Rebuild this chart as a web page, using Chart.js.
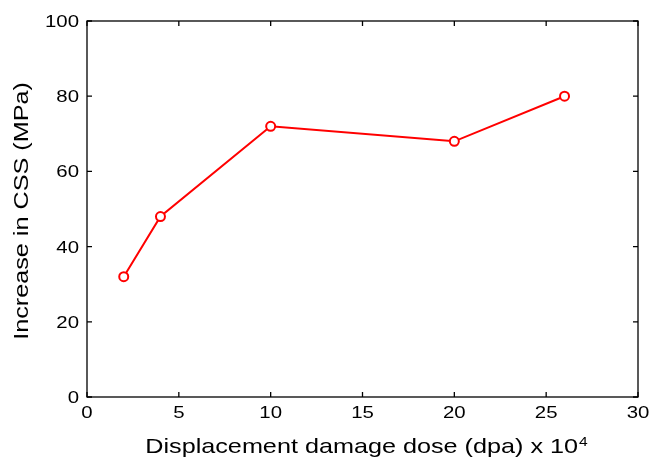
<!DOCTYPE html>
<html>
<head>
<meta charset="utf-8">
<script src="https://cdn.jsdelivr.net/npm/chart.js@4.4.0/dist/chart.umd.min.js"></script>
<style>
  html, body { margin: 0; padding: 0; background: #fff; }
  #wrap { width: 653px; height: 460px; }
</style>
</head>
<body>
<div id="wrap"><canvas id="cssChart" width="653" height="460"></canvas></div>
<script>
// dose (x 10^4 dpa) and CSS increase (MPa)
const doses = [2, 4, 10, 20, 26];
const cssIncrease = [32, 48, 72, 68, 80];
const xTicks = [0, 5, 10, 15, 20, 25, 30];
const yTicks = [0, 20, 40, 60, 80, 100];

const FONT = 'Liberation Sans, Arial, Helvetica, sans-serif';
const STRETCH = 1.2; // the figure's text is drawn a bit wide

// draw text stretched along its own direction
function wideText(ctx, txt, x, y, align) {
    const w = ctx.measureText(txt).width * STRETCH;
    let left = x;
    if (align === 'center') left = x - w / 2;
    if (align === 'right') left = x - w;
    ctx.save();
    ctx.translate(left, y);
    ctx.scale(STRETCH, 1);
    ctx.textAlign = 'left';
    ctx.fillText(txt, 0, 0);
    ctx.restore();
    return w;
}

// MATLAB style box with inward ticks, tick labels and axis titles
const boxPlugin = {
    id: 'box',
    afterDraw(chart) {
        const ctx = chart.ctx;
        const a = chart.chartArea;
        const xs = chart.scales.x, ys = chart.scales.y;
        const tl = 5;
        ctx.save();
        ctx.strokeStyle = '#000';
        ctx.lineWidth = 1.3;
        ctx.strokeRect(a.left, a.top, a.right - a.left, a.bottom - a.top);
        ctx.beginPath();
        xTicks.forEach(v => {
            const px = xs.getPixelForValue(v);
            ctx.moveTo(px, a.bottom); ctx.lineTo(px, a.bottom - tl);
            ctx.moveTo(px, a.top); ctx.lineTo(px, a.top + tl);
        });
        yTicks.forEach(v => {
            const py = ys.getPixelForValue(v);
            ctx.moveTo(a.left, py); ctx.lineTo(a.left + tl, py);
            ctx.moveTo(a.right, py); ctx.lineTo(a.right - tl, py);
        });
        ctx.stroke();

        ctx.fillStyle = '#000';
        ctx.textBaseline = 'alphabetic';
        ctx.font = '17px ' + FONT;
        xTicks.forEach(v => {
            wideText(ctx, String(v), xs.getPixelForValue(v), a.bottom + 21, 'center');
        });
        yTicks.forEach(v => {
            wideText(ctx, String(v), a.left - 8, ys.getPixelForValue(v) + 6, 'right');
        });

        // x title with superscript exponent
        ctx.font = '21px ' + FONT;
        const main = 'Displacement damage dose (dpa) x 10';
        const w1 = ctx.measureText(main).width * STRETCH;
        ctx.font = '13px ' + FONT;
        const w2 = ctx.measureText('4').width * STRETCH;
        const start = 366 - (w1 + w2) / 2;
        ctx.font = '21px ' + FONT;
        wideText(ctx, main, start, 453, 'left');
        ctx.font = '13px ' + FONT;
        wideText(ctx, '4', start + w1 + 1, 446, 'left');

        // y title
        ctx.translate(28, 211);
        ctx.rotate(-Math.PI / 2);
        ctx.font = '21px ' + FONT;
        wideText(ctx, 'Increase in CSS (MPa)', 0, 0, 'center');
        ctx.restore();
    }
};

new Chart(document.getElementById('cssChart').getContext('2d'), {
    type: 'line',
    data: {
        datasets: [{
            data: doses.map((d, i) => ({ x: d, y: cssIncrease[i] })),
            borderColor: '#ff0000',
            borderWidth: 2,
            backgroundColor: '#ffffff',
            pointBackgroundColor: '#ffffff',
            pointBorderColor: '#ff0000',
            pointBorderWidth: 2,
            pointRadius: 4.5,
            tension: 0
        }]
    },
    options: {
        responsive: false,
        animation: false,
        layout: { padding: { top: 21, right: 15, left: 0, bottom: 0 } },
        plugins: { legend: { display: false }, tooltip: { enabled: false } },
        scales: {
            x: {
                type: 'linear',
                min: 0, max: 30,
                afterBuildTicks: s => { s.ticks = xTicks.map(v => ({ value: v })); },
                afterFit: s => { s.height = 63; },
                grid: { display: false, drawTicks: false },
                border: { display: false },
                ticks: { display: false }
            },
            y: {
                min: 0, max: 100,
                afterBuildTicks: s => { s.ticks = yTicks.map(v => ({ value: v })); },
                afterFit: s => { s.width = 87; },
                grid: { display: false, drawTicks: false },
                border: { display: false },
                ticks: { display: false }
            }
        }
    },
    plugins: [boxPlugin]
});
</script>
</body>
</html>
